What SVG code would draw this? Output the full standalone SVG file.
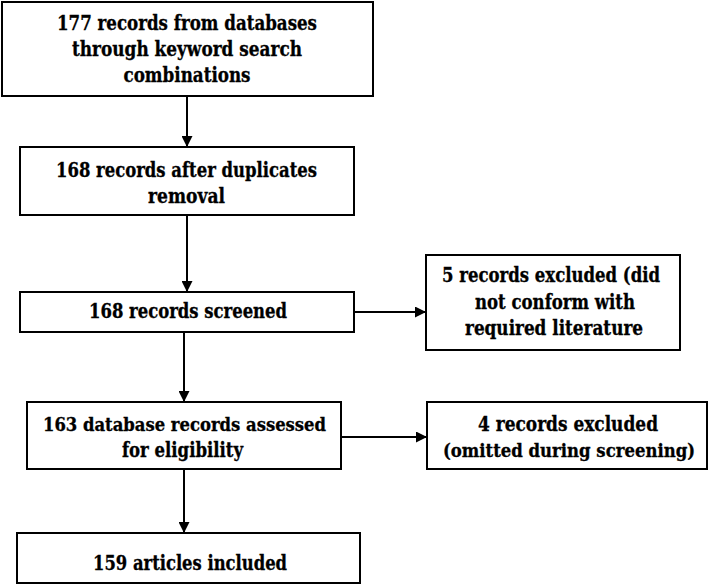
<svg xmlns="http://www.w3.org/2000/svg" width="709" height="585" viewBox="0 0 709 585">
<style>
.box{fill:#fff;stroke:#000;stroke-width:2}
.c{stroke:#000;stroke-width:2;fill:none;marker-end:url(#ah)}
text{font-family:"DejaVu Serif Condensed","DejaVu Serif","Liberation Serif",serif;font-stretch:condensed;font-weight:bold;font-size:20px;text-anchor:middle;fill:#000;stroke:#000;stroke-width:0.3}
.s{font-size:19px}
</style>
<defs>
<marker id="ah" viewBox="0 0 10 10" refX="10" refY="5" markerWidth="11" markerHeight="11" markerUnits="userSpaceOnUse" orient="auto">
<path d="M0,0 L10,5 L0,10 Z" fill="#000"/>
</marker>
</defs>
<rect width="709" height="585" fill="#fff"/>
<g id="connectors">
<line class="c" x1="187" y1="96" x2="187" y2="147"/>
<line class="c" x1="187" y1="215" x2="187" y2="292"/>
<line class="c" x1="184" y1="332" x2="184" y2="402"/>
<line class="c" x1="184" y1="469" x2="184" y2="533"/>
<line class="c" x1="354" y1="312" x2="426" y2="312"/>
<line class="c" x1="341" y1="437" x2="427" y2="437"/>
</g>
<g id="n1">
<rect class="box" x="2" y="2" width="371" height="94"/>
<text x="187" y="30" textLength="260" lengthAdjust="spacingAndGlyphs">177 records from databases</text>
<text x="187" y="56" textLength="230" lengthAdjust="spacingAndGlyphs">through keyword search</text>
<text x="187" y="82" textLength="127" lengthAdjust="spacingAndGlyphs">combinations</text>
</g>
<g id="n2">
<rect class="box" x="20" y="147" width="334" height="68"/>
<text x="186.5" y="177" textLength="261" lengthAdjust="spacingAndGlyphs">168 records after duplicates</text>
<text x="186.5" y="203" textLength="77" lengthAdjust="spacingAndGlyphs">removal</text>
</g>
<g id="n3">
<rect class="box" x="20" y="292" width="334" height="40"/>
<text x="188" y="318" textLength="198" lengthAdjust="spacingAndGlyphs">168 records screened</text>
</g>
<g id="n4">
<rect class="box" x="27" y="402" width="314" height="67"/>
<text class="s" x="184.5" y="431" textLength="283" lengthAdjust="spacingAndGlyphs">163 database records assessed</text>
<text x="182.5" y="457" textLength="121" lengthAdjust="spacingAndGlyphs">for eligibility</text>
</g>
<g id="n5">
<rect class="box" x="17" y="533" width="343" height="50"/>
<text x="190" y="570" textLength="194" lengthAdjust="spacingAndGlyphs">159 articles included</text>
</g>
<g id="n6">
<rect class="box" x="426" y="255" width="254" height="95"/>
<text x="551" y="282" textLength="218" lengthAdjust="spacingAndGlyphs">5 records excluded (did</text>
<text x="555" y="309" textLength="160" lengthAdjust="spacingAndGlyphs">not conform with</text>
<text x="554" y="335" textLength="178" lengthAdjust="spacingAndGlyphs">required literature</text>
</g>
<g id="n7">
<rect class="box" x="427" y="402" width="280" height="67"/>
<text x="568" y="431" textLength="180" lengthAdjust="spacingAndGlyphs">4 records excluded</text>
<text class="s" x="569" y="457" textLength="252" lengthAdjust="spacingAndGlyphs">(omitted during screening)</text>
</g>
</svg>
